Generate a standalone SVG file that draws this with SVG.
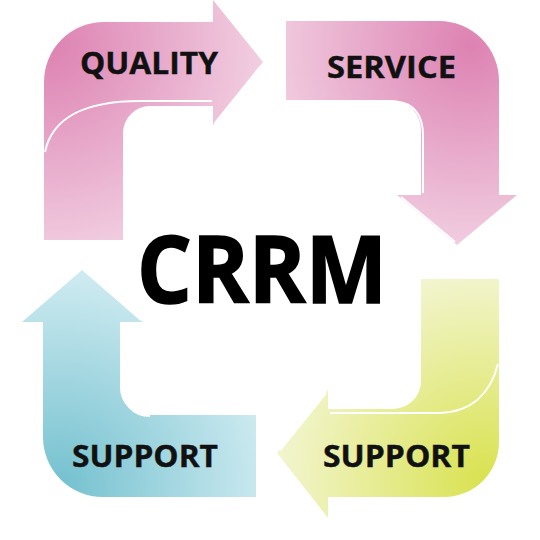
<svg xmlns="http://www.w3.org/2000/svg" width="540" height="540" viewBox="0 0 540 540">
  <defs>
    <radialGradient id="gQuality" gradientUnits="userSpaceOnUse" cx="50" cy="45" r="240">
      <stop offset="0" stop-color="#dd82b2"/>
      <stop offset="1" stop-color="#f4d8e7"/>
    </radialGradient>
    <radialGradient id="gService" gradientUnits="userSpaceOnUse" cx="470" cy="45" r="230">
      <stop offset="0" stop-color="#dd82b2"/>
      <stop offset="1" stop-color="#f4d8e7"/>
    </radialGradient>
    <radialGradient id="gBlue" gradientUnits="userSpaceOnUse" cx="60" cy="485" r="240">
      <stop offset="0" stop-color="#74c1cf"/>
      <stop offset="1" stop-color="#daf0f5"/>
    </radialGradient>
    <radialGradient id="gYellow" gradientUnits="userSpaceOnUse" cx="485" cy="480" r="230">
      <stop offset="0" stop-color="#d9e250"/>
      <stop offset="1" stop-color="#f5f7dc"/>
    </radialGradient>
  </defs>
  <style>
    .lbl { font-family: "Open Sans", "Liberation Sans", sans-serif; font-weight: bold; font-size: 31px; fill: #111; stroke: #111; stroke-width: 0.4; text-anchor: middle; }
    .title { font-family: "Open Sans", "Liberation Sans", sans-serif; font-weight: bold; font-size: 93px; fill: #000; stroke: #000; stroke-width: 1.6; text-anchor: middle; }
    .hl { fill: none; stroke: #ffffff; stroke-width: 2; }
  </style>
  <rect width="540" height="540" fill="#ffffff"/>

  <g id="quality">
    <path d="M44,240 L44,82 A60,60 0 0 1 104,22 L213,22 L213,0 L263,62 L213,125 L213,106 L150,106 A27,27 0 0 0 123,133 L123,240 Z" fill="url(#gQuality)"/>
    <path class="hl" d="M45,152 C52,118 85,101 140,101 L212,101"/>
    <path class="hl" d="M260,67 L215,123"/>
    <text class="lbl" x="149" y="74" textLength="138" lengthAdjust="spacingAndGlyphs">QUALITY</text>
  </g>

  <g id="service">
    <path d="M286,21 L439,21 A60,60 0 0 1 499,81 L499,195 L517,195 L457,245 L397,195 L421,195 L421,130 A30,30 0 0 0 391,100 L286,100 Z" fill="url(#gService)"/>
    <path class="hl" d="M398,102 C413,103 423,115 423,135 L423,193"/>
    <path class="hl" d="M401,197 L455,242"/>
    <text class="lbl" x="391.5" y="78" textLength="129" lengthAdjust="spacingAndGlyphs">SERVICE</text>
  </g>

  <g id="support-right">
    <path d="M499,279 L499,442 A55,55 0 0 1 444,497 L328,497 L328,518 L277,453 L328,390 L328,409 L393,409 A28,28 0 0 0 421,381 L421,279 Z" fill="url(#gYellow)"/>
    <path class="hl" d="M498,364 C490,395 470,412 440,413 L330,413"/>
    <path class="hl" d="M326,393 L280,450"/>
    <text class="lbl" x="396.5" y="467" textLength="147" lengthAdjust="spacingAndGlyphs">SUPPORT</text>
  </g>

  <g id="support-left">
    <path d="M256,497 L103,497 A60,60 0 0 1 43,437 L43,322 L22,322 L82,270 L143,322 L120,322 L120,388 A27,27 0 0 0 147,415 L256,415 Z" fill="url(#gBlue)"/>
    <path class="hl" d="M123,324 L123,388 C123,404 133,416 150,416"/>
    <path class="hl" d="M85,271 L141,320"/>
    <text class="lbl" x="145" y="467" textLength="146" lengthAdjust="spacingAndGlyphs">SUPPORT</text>
  </g>

  <g id="center">
    <text class="title" x="262" y="303" textLength="250" lengthAdjust="spacingAndGlyphs">CRRM</text>
  </g>
</svg>
